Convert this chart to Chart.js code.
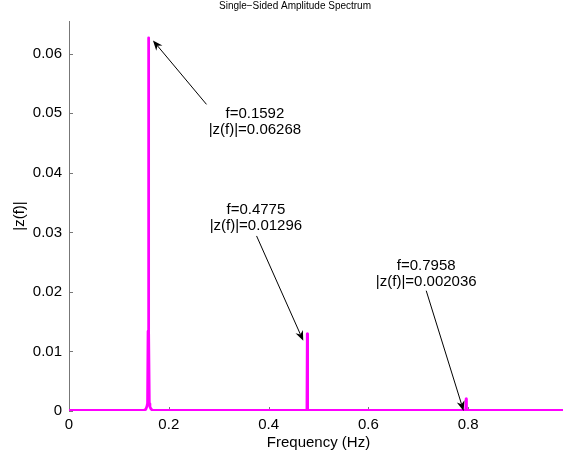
<!DOCTYPE html>
<html>
<head>
<meta charset="utf-8">
<title>Single-Sided Amplitude Spectrum</title>
<script src="https://cdn.jsdelivr.net/npm/chart.js@4.4.1/dist/chart.umd.min.js"></script>
<style>
  html, body { margin: 0; padding: 0; overflow: hidden; background: #fff; }
</style>
</head>
<body>
<canvas id="spectrum" width="600" height="459"></canvas>
<script>
// spectrum samples (Hz, amplitude)
const freqs = [0, 0.150, 0.154, 0.1562, 0.1574, 0.1584, 0.1592, 0.1600, 0.1610, 0.1622, 0.1645, 0.168,
               0.4768, 0.4775, 0.4782, 0.7951, 0.7958, 0.7965, 1.0];
const amps  = [0.0001, 0.0001, 0.0003, 0.0008, 0.0013, 0.0134, 0.06268, 0.0134, 0.0012, 0.0007, 0.0003, 0.0001,
               0.0001, 0.01296, 0.0001, 0.0001, 0.002036, 0.0001, 0.0001];

// labelled peaks
const peakFreqs = [0.1592, 0.4775, 0.7958];
const peakAmps  = [0.06268, 0.01296, 0.002036];

const xTicks = [0, 0.2, 0.4, 0.6, 0.8, 1];
const yTicks = [0, 0.01, 0.02, 0.03, 0.04, 0.05, 0.06];

const FONT = 'Liberation Sans, Arial, Helvetica, sans-serif';

// where the text boxes / arrow tails sit (data units), and tip offset from the peak (px)
const notes = [
  { textX: 0.3725, textY: 0.0492, tailX: 0.2755, tailY: 0.0515, tipDx: 4.5, tipDy: 2.6 },
  { textX: 0.3745, textY: 0.0331, tailX: 0.3759, tailY: 0.0294, tipDx: -4, tipDy: 7 },
  { textX: 0.7159, textY: 0.0237, tailX: 0.7159, tailY: 0.0202, tipDx: -2.5, tipDy: 12 }
];

function arrow(ctx, x0, y0, x1, y1) {
  const L = 10, W = 8;
  const dx = x1 - x0, dy = y1 - y0;
  const len = Math.sqrt(dx * dx + dy * dy);
  const ux = dx / len, uy = dy / len;
  const nx = -uy, ny = ux;
  ctx.beginPath();
  ctx.moveTo(x0, y0);
  ctx.lineTo(x1 - ux * L * 0.7, y1 - uy * L * 0.7);
  ctx.stroke();
  ctx.beginPath();
  ctx.moveTo(x1, y1);
  ctx.lineTo(x1 - ux * L + nx * W / 2, y1 - uy * L + ny * W / 2);
  ctx.lineTo(x1 - ux * L * 0.7, y1 - uy * L * 0.7);
  ctx.lineTo(x1 - ux * L - nx * W / 2, y1 - uy * L - ny * W / 2);
  ctx.closePath();
  ctx.fill();
}

const matlabLook = {
  id: 'matlabLook',
  beforeDatasetsDraw(chart) {
    const ctx = chart.ctx, a = chart.chartArea;
    const xs = chart.scales.x, ys = chart.scales.y;
    ctx.save();
    ctx.strokeStyle = '#777';
    ctx.lineWidth = 1;
    xTicks.forEach(v => {
      const px = Math.round(xs.getPixelForValue(v)) + 0.5;
      ctx.beginPath(); ctx.moveTo(px, a.bottom); ctx.lineTo(px, a.bottom - 4); ctx.stroke();
    });
    yTicks.forEach(v => {
      const py = Math.round(ys.getPixelForValue(v)) + 0.5;
      ctx.beginPath(); ctx.moveTo(a.left, py); ctx.lineTo(a.left + 4, py); ctx.stroke();
    });
    ctx.restore();
  },
  afterDraw(chart) {
    const ctx = chart.ctx, a = chart.chartArea;
    const xs = chart.scales.x, ys = chart.scales.y;
    ctx.save();
    ctx.fillStyle = '#000';
    ctx.textAlign = 'center';
    ctx.textBaseline = 'middle';

    ctx.font = '10px ' + FONT;
    ctx.fillText('Single\u2212Sided Amplitude Spectrum', 295, 6);

    ctx.font = '15px ' + FONT;
    ctx.fillText('Frequency (Hz)', (a.left + a.right) / 2, 443);

    ctx.save();
    ctx.translate(20, (a.top + a.bottom) / 2);
    ctx.rotate(-Math.PI / 2);
    ctx.fillText('|z(f)|', 0, 0);
    ctx.restore();

    ctx.strokeStyle = '#000';
    ctx.lineWidth = 1;
    ctx.textBaseline = 'alphabetic';
    notes.forEach((n, i) => {
      const tx = xs.getPixelForValue(n.textX), ty = ys.getPixelForValue(n.textY);
      ctx.fillText('f=' + peakFreqs[i], tx, ty);
      ctx.fillText('|z(f)|=' + peakAmps[i], tx, ty + 16);
      const px = xs.getPixelForValue(peakFreqs[i]) + n.tipDx;
      const py = ys.getPixelForValue(peakAmps[i]) + n.tipDy;
      arrow(ctx, xs.getPixelForValue(n.tailX), ys.getPixelForValue(n.tailY), px, py);
    });
    ctx.restore();
  }
};

const points = freqs.map((f, i) => ({ x: f, y: amps[i] }));

new Chart(document.getElementById('spectrum'), {
  type: 'line',
  data: {
    datasets: [{
      label: '|z(f)|',
      data: points,
      borderColor: '#ff00ff',
      backgroundColor: '#ff00ff',
      borderWidth: 2.75,
      borderJoinStyle: 'round',
      pointRadius: 0,
      tension: 0,
      fill: false
    }]
  },
  options: {
    responsive: false,
    animation: false,
    devicePixelRatio: 1,
    layout: { padding: { top: 21, right: 32, left: 0, bottom: 0 } },
    plugins: { legend: { display: false }, tooltip: { enabled: false }, title: { display: false } },
    scales: {
      x: {
        type: 'linear',
        min: 0,
        max: 1,
        afterFit: s => { s.height = 48; },
        afterBuildTicks: s => { s.ticks = xTicks.map(v => ({ value: v })); },
        ticks: {
          color: '#000',
          font: { family: FONT, size: 15 },
          padding: 5,
          maxRotation: 0,
          autoSkip: false,
          callback: v => String(+v.toFixed(1))
        },
        grid: { display: false, drawTicks: false },
        border: { display: false }
      },
      y: {
        type: 'linear',
        min: 0,
        max: 0.0655,
        afterFit: s => { s.width = 69; },
        afterBuildTicks: s => { s.ticks = yTicks.map(v => ({ value: v })); },
        ticks: {
          color: '#000',
          font: { family: FONT, size: 15 },
          padding: 7,
          callback: v => String(+v.toFixed(2))
        },
        grid: { display: false, drawTicks: false },
        border: { display: true, color: '#777', width: 1 }
      }
    }
  },
  plugins: [matlabLook]
});
</script>
</body>
</html>
